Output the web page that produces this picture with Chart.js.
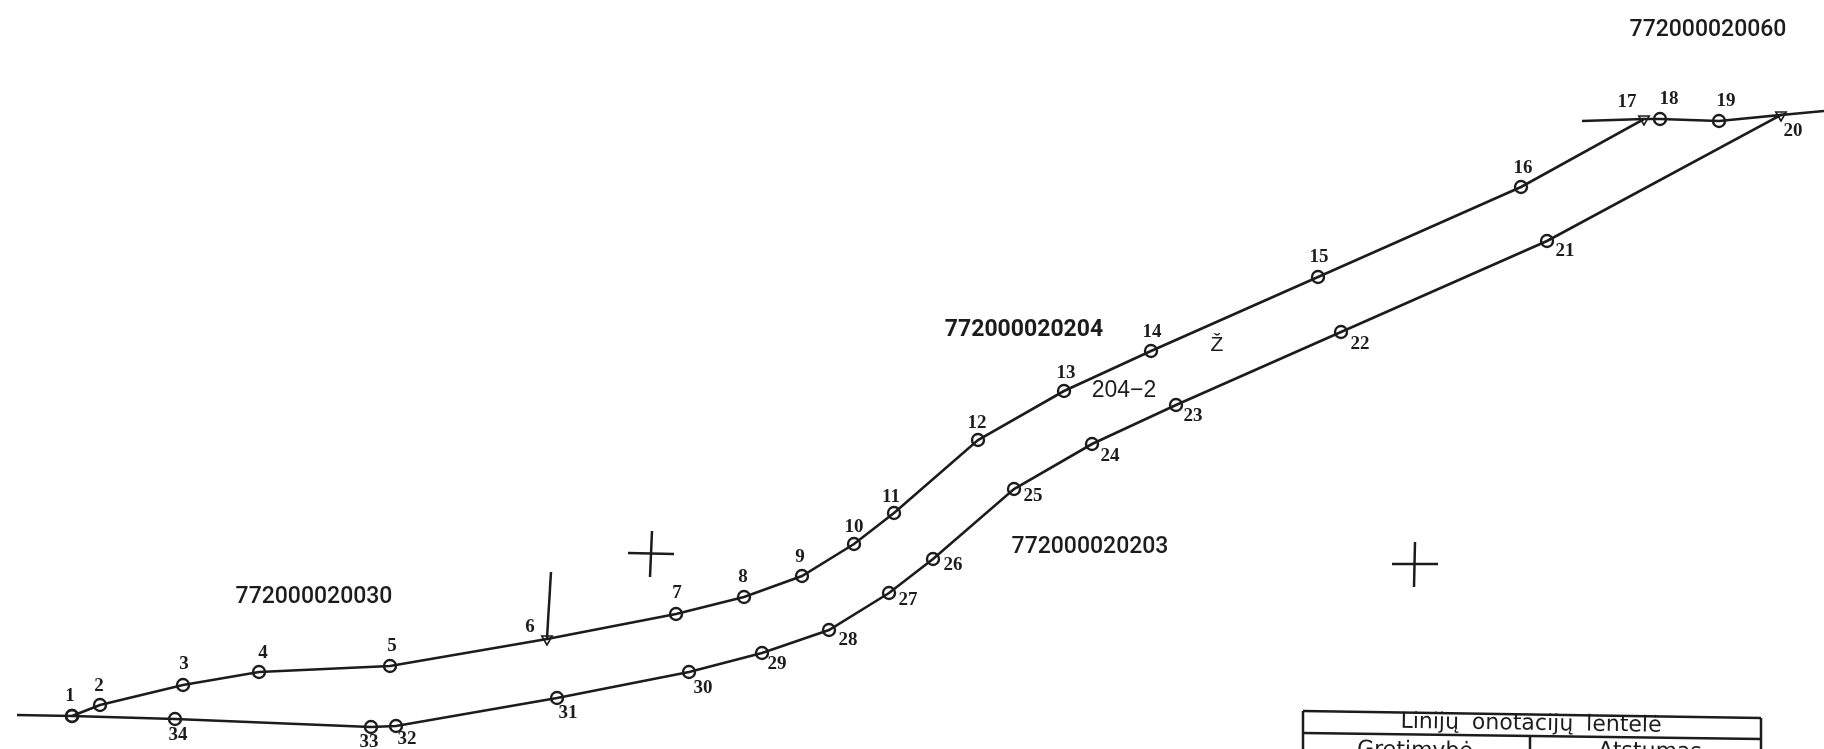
<!DOCTYPE html>
<html>
<head>
<meta charset="utf-8">
<title>Plan</title>
<script src="https://cdn.jsdelivr.net/npm/chart.js@4"></script>
<style>
    html, body { margin: 0; padding: 0; background: #fff; overflow: hidden; }
    #wrap { width: 1824px; height: 749px; }
</style>
</head>
<body>
<div id="wrap"><canvas id="plan"></canvas></div>
<script>
// --- Plan data (units match the sheet) ---
const pointNames = ['1','2','3','4','5','6','7','8','9','10','11','12','13','14','15','16','17',
    '18','19','20','21','22','23','24','25','26','27','28','29','30','31','32','33','34'];
const pointX = [72,100,183,259,390,547,676,744,802,854,894,978,1064,1151,1318,1521,1644,
    1660,1719,1781,1547,1341,1176,1092,1014,933,889,829,762,689,557,396,371,175];
const pointY = [716,705,685,672,666,639,614,597,576,544,513,440,391,351,277,187,119,
    119,121,115,241,332,405,444,489,559,593,630,653,672,698,726,727,719];
const nameX = [70,99,184,263,392,530,677,743,800,854,891,977,1066,1152,1319,1523,1627,
    1669,1726,1793,1565,1360,1193,1110,1033,953,908,848,777,703,568,407,369,178];
const nameY = [696,686,664,653,646,627,593,577,557,527,497,423,373,332,257,168,102,
    99,101,131,251,344,416,456,496,565,600,640,664,688,713,739,742,735];
const trianglePoints = ['6','17','20'];

// Neighbouring boundaries and survey crosses
const westLineX = [17,72];      const westLineY = [715,716];
const northLineX = [1582,1644]; const northLineY = [121,119];
const eastLineX = [1781,1824];  const eastLineY = [115,111];
const stemX = [551,547];        const stemY = [572,638];
const cross1aX = [628,674];     const cross1aY = [553,554];
const cross1bX = [652,650];     const cross1bY = [531,577];
const cross2aX = [1392,1438];   const cross2aY = [564,564];
const cross2bX = [1415,1414];   const cross2bY = [542,587];

// Table frame at the bottom right (runs off the sheet)
const tableTopX = [1303,1761];    const tableTopY = [711,718];
const tableRowX = [1303,1761];    const tableRowY = [733,739];
const tableLeftX = [1303,1303];   const tableLeftY = [711,749];
const tableRightX = [1761,1761];  const tableRightY = [718,749];
const tableMidX = [1530,1530];    const tableMidY = [736,749];

// Parcel numbers and other captions
const captionText = ['772000020030','772000020204','772000020203','772000020060','204−2','Ž'];
const captionX = [314,1024,1090,1708,1124,1217];
const captionY = [597,330,547,30,391,345];
const captionFont = ['500 23px Roboto','bold 23px Roboto','500 23px Roboto',
    '500 23px Roboto','23px "Liberation Sans"','21px "Liberation Sans"'];

const tableText = ['Linijų onotacijų lentelė','Gretimybė','Atstumas'];
const tableTextX = [1531,1415,1650];
const tableTextY = [724,751,752];

const INK = '#1c1c1c';

function toPoints(xs, ys) {
    return xs.map((x, i) => ({ x: x, y: ys[i] }));
}

function plainLine(xs, ys) {
    return {
        data: toPoints(xs, ys),
        borderColor: INK,
        borderWidth: 2.5,
        pointRadius: 0,
        fill: false,
        tension: 0
    };
}

// Closed boundary: 1 to 34 and back to 1
const boundaryPoints = toPoints(pointX, pointY);
boundaryPoints.push({ x: pointX[0], y: pointY[0] });
const isTriangle = i => trianglePoints.includes(pointNames[i % pointNames.length]);

/**
 * Draws point numbers, captions and table text through the chart's scales.
 */
const textPlugin = {
    id: 'planText',
    afterDatasetsDraw(chart) {
        const { ctx, scales } = chart;
        ctx.save();
        ctx.textAlign = 'center';
        ctx.textBaseline = 'middle';
        ctx.fillStyle = INK;

        ctx.font = 'bold 19px "Liberation Serif"';
        pointNames.forEach((name, i) => {
            ctx.fillText(name, scales.x.getPixelForValue(nameX[i]), scales.y.getPixelForValue(nameY[i]));
        });

        captionText.forEach((text, i) => {
            ctx.font = captionFont[i];
            ctx.fillText(text, scales.x.getPixelForValue(captionX[i]), scales.y.getPixelForValue(captionY[i]));
        });

        ctx.font = '22px "DejaVu Sans"';
        ctx.wordSpacing = '6px';
        tableText.forEach((text, i) => {
            ctx.save();
            ctx.translate(scales.x.getPixelForValue(tableTextX[i]), scales.y.getPixelForValue(tableTextY[i]));
            ctx.rotate(0.015);
            ctx.fillText(text, 0, 0);
            ctx.restore();
        });
        ctx.restore();
    }
};

new Chart(document.getElementById('plan').getContext('2d'), {
    type: 'line',
    data: {
        datasets: [
            {
                data: boundaryPoints,
                borderColor: INK,
                borderWidth: 2.6,
                backgroundColor: 'rgba(0,0,0,0)',
                tension: 0,
                fill: false,
                pointBorderColor: INK,
                pointBorderWidth: ctx => isTriangle(ctx.dataIndex) ? 1.6 : 2.4,
                pointBackgroundColor: 'rgba(0,0,0,0)',
                pointStyle: ctx => isTriangle(ctx.dataIndex) ? 'triangle' : 'circle',
                pointRotation: ctx => isTriangle(ctx.dataIndex) ? 180 : 0,
                pointRadius: ctx => isTriangle(ctx.dataIndex) ? 6 : 6
            },
            plainLine(westLineX, westLineY),
            plainLine(northLineX, northLineY),
            plainLine(eastLineX, eastLineY),
            plainLine(stemX, stemY),
            plainLine(cross1aX, cross1aY),
            plainLine(cross1bX, cross1bY),
            plainLine(cross2aX, cross2aY),
            plainLine(cross2bX, cross2bY),
            plainLine(tableTopX, tableTopY),
            plainLine(tableRowX, tableRowY),
            plainLine(tableLeftX, tableLeftY),
            plainLine(tableRightX, tableRightY),
            plainLine(tableMidX, tableMidY)
        ]
    },
    options: {
        responsive: true,
        maintainAspectRatio: false,
        animation: false,
        devicePixelRatio: 1,
        layout: { padding: 0, autoPadding: false },
        plugins: { legend: { display: false }, tooltip: { enabled: false } },
        scales: {
            x: { type: 'linear', display: false, min: 0, max: 1824 },
            y: { type: 'linear', display: false, min: 0, max: 749, reverse: true }
        }
    },
    plugins: [textPlugin]
});
</script>
</body>
</html>
